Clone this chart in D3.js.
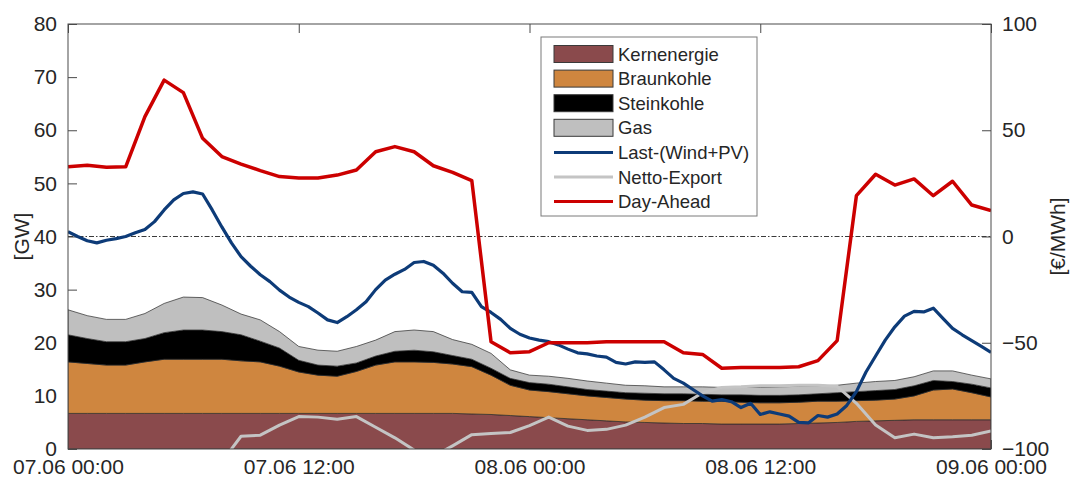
<!DOCTYPE html>
<html>
<head>
<meta charset="utf-8">
<script src="https://cdn.jsdelivr.net/npm/d3@7"></script>
<style>
  html, body { margin: 0; padding: 0; background: #fff; }
  svg { display: block; font-family: "Liberation Sans", Arial, Helvetica, sans-serif; }
</style>
</head>
<body>
<svg id="chart" width="1071" height="479"></svg>
<script>
// Time axis: hours since 07.06 00:00
const xTickHours = [0, 12, 24, 36, 48];
const xTickLabels = ["07.06 00:00", "07.06 12:00", "08.06 00:00", "08.06 12:00", "09.06 00:00"];
const gwTicks = [0, 10, 20, 30, 40, 50, 60, 70, 80];
const priceTicks = [-100, -50, 0, 50, 100];

// Hourly generation by source [GW], h0 .. h48
const kernenergie = [
  6.7, 6.7, 6.7, 6.7, 6.7, 6.7, 6.7, 6.7, 6.7, 6.7, 6.7, 6.7, 6.7,
  6.7, 6.7, 6.7, 6.7, 6.7, 6.7, 6.7, 6.7, 6.6, 6.5, 6.3, 6.1,
  5.9, 5.7, 5.5, 5.3, 5.1, 5.0, 4.9, 4.8, 4.8, 4.7, 4.7, 4.7,
  4.7, 4.8, 4.9, 5.0, 5.2, 5.3, 5.4, 5.5, 5.5, 5.5, 5.5, 5.5
];
const braunkohle = [
  9.7, 9.4, 9.1, 9.1, 9.7, 10.2, 10.2, 10.2, 10.2, 9.9, 9.7, 8.9, 7.8,
  7.2, 7.0, 7.9, 9.1, 9.7, 9.7, 9.6, 9.3, 8.9, 7.4, 5.7, 5.0,
  4.9, 4.7, 4.5, 4.4, 4.3, 4.2, 4.2, 4.3, 4.2, 4.3, 4.1, 4.0,
  4.0, 4.0, 4.1, 4.0, 3.9, 3.9, 4.0, 4.5, 5.6, 5.8, 5.1, 4.3
];
const steinkohle = [
  5.1, 4.7, 4.4, 4.4, 4.4, 5.0, 5.5, 5.5, 5.2, 4.9, 3.9, 3.4, 2.2,
  1.9, 1.9, 1.6, 1.7, 2.0, 2.2, 2.0, 1.6, 1.4, 1.3, 1.3, 1.4,
  1.4, 1.3, 1.2, 1.2, 1.2, 1.3, 1.3, 1.3, 1.3, 1.2, 1.4, 1.4,
  1.4, 1.4, 1.4, 1.6, 1.7, 1.8, 1.8, 1.9, 1.8, 1.4, 1.6, 1.7
];
const gas = [
  4.7, 4.3, 4.2, 4.2, 4.7, 5.5, 6.2, 6.1, 5.0, 3.9, 4.0, 3.1, 2.6,
  2.8, 2.8, 3.1, 3.0, 3.7, 3.8, 3.8, 3.0, 2.8, 2.8, 1.6, 1.4,
  1.5, 1.6, 1.6, 1.5, 1.4, 1.4, 1.3, 1.3, 1.4, 1.4, 1.4, 1.5,
  1.6, 1.6, 1.5, 1.4, 1.6, 1.7, 1.7, 1.7, 1.8, 2.0, 1.7, 1.7
];

// Hourly net export [GW] (below the axis before 07.06 08:00)
const nettoExport = [
  null, null, null, null, null, null, null, null, -2.4, 2.4, 2.6, 4.5, 6.1,
  6.0, 5.6, 6.1, 4.1, 2.1, -0.2, -1.4, 0.6, 2.7, 2.9, 3.1, 4.4,
  6.0, 4.3, 3.5, 3.7, 4.5, 6.0, 7.8, 8.4, 10.6, 11.6, 11.7, 11.9,
  11.9, 12.0, 12.0, 11.8, 8.6, 4.5, 2.1, 2.8, 2.1, 2.3, 2.6, 3.4
];

// Hourly day-ahead price [€/MWh]
const dayAhead = [
  32.8, 33.5, 32.6, 32.8, 56.4, 73.6, 67.7, 46.2, 37.6, 34.1, 31.0, 28.2, 27.5,
  27.5, 28.9, 31.3, 39.9, 42.3, 39.9, 33.3, 30.2, 26.3, -49.5, -54.7, -54.2,
  -50.0, -50.0, -50.0, -49.5, -49.5, -49.5, -49.5, -54.7, -55.5, -62.0, -61.7, -61.6,
  -61.6, -61.3, -58.4, -49.0, 19.2, 29.3, 24.2, 27.1, 19.2, 26.0, 14.8, 12.2
];

// Residual load Last-(Wind+PV) [GW], half-hourly h0 .. h48
const residualLoad = [
  40.9, 40.0, 39.2, 38.8, 39.3, 39.6, 40.0, 40.7, 41.3, 42.8, 45.0, 46.9,
  48.1, 48.4, 48.0, 45.0, 41.8, 38.8, 36.2, 34.4, 32.8, 31.5, 29.9, 28.6,
  27.6, 26.8, 25.6, 24.3, 23.8, 24.9, 26.2, 27.7, 30.0, 31.8, 32.9, 33.8,
  35.1, 35.3, 34.6, 33.1, 31.2, 29.6, 29.5, 26.8, 25.7, 24.4, 22.7, 21.6,
  20.9, 20.5, 20.2, 19.6, 18.8, 18.1, 17.9, 17.5, 17.3, 16.3, 16.0, 16.4,
  16.3, 16.4, 14.9, 13.3, 12.4, 11.2, 10.0, 9.0, 9.3, 8.9, 7.8, 8.6,
  6.5, 7.0, 6.6, 6.2, 5.0, 4.9, 6.3, 6.0, 6.6, 8.2, 10.8, 14.5,
  17.5, 20.5, 23.0, 25.0, 25.9, 25.8, 26.5, 24.6, 22.7, 21.5, 20.4, 19.3,
  18.2
];

const sources = ["Kernenergie", "Braunkohle", "Steinkohle", "Gas"];
const sourceColors = ["#8a4a4c", "#cf863f", "#000000", "#bfbfbf"];
const lineNames = ["Last-(Wind+PV)", "Netto-Export", "Day-Ahead"];
const lineColors = ["#0d3b78", "#c4c4c4", "#cc0000"];

const hours = d3.range(0, 49);
const halfHours = d3.range(0, 48.5, 0.5);

const table = hours.map((h, i) => ({
  h,
  Kernenergie: kernenergie[i],
  Braunkohle: braunkohle[i],
  Steinkohle: steinkohle[i],
  Gas: gas[i]
}));

const svg = d3.select("#chart");
const W = 1071, H = 479;
const plot = { left: 68, right: 991, top: 24, bottom: 449 };

const x = d3.scaleLinear().domain([0, 48]).range([plot.left, plot.right]);
const yGW = d3.scaleLinear().domain([0, 80]).range([plot.bottom, plot.top]);
const yPrice = d3.scaleLinear().domain([-100, 100]).range([plot.bottom, plot.top]);

const axisColor = "#4a4a4a";
const textColor = "#262626";
const tickFont = 21;

svg.append("rect").attr("width", W).attr("height", H).attr("fill", "#fff");

svg.append("defs").append("clipPath").attr("id", "plotClip")
  .append("rect")
  .attr("x", plot.left).attr("y", plot.top)
  .attr("width", plot.right - plot.left).attr("height", plot.bottom - plot.top);

// Axes (drawn beneath the data, ticks pointing inward)
function styleAxis(g) {
  g.select(".domain").remove();
  g.selectAll(".tick line").attr("stroke", axisColor).attr("stroke-width", 1);
  g.selectAll(".tick text").attr("fill", textColor).style("font-size", tickFont + "px");
}

svg.append("g")
  .attr("transform", `translate(${plot.left},0)`)
  .call(d3.axisLeft(yGW).tickValues(gwTicks).tickSize(-9).tickPadding(11))
  .call(styleAxis);

svg.append("g")
  .attr("transform", `translate(${plot.right},0)`)
  .call(d3.axisRight(yPrice).tickValues(priceTicks).tickSize(-9).tickPadding(11))
  .call(styleAxis);

svg.append("g")
  .attr("transform", `translate(0,${plot.bottom})`)
  .call(d3.axisBottom(x).tickValues(xTickHours).tickFormat((d, i) => xTickLabels[i]).tickSize(-9).tickPadding(10))
  .call(styleAxis);

svg.append("g")
  .attr("transform", `translate(0,${plot.top})`)
  .call(d3.axisTop(x).tickValues(xTickHours).tickFormat("").tickSize(-9))
  .call(styleAxis);

const data = svg.append("g").attr("clip-path", "url(#plotClip)");

// Stacked generation
const stack = d3.stack().keys(sources);
const series = stack(table);
const area = d3.area()
  .x(d => x(d.data.h))
  .y0(d => yGW(d[0]))
  .y1(d => yGW(d[1]));

data.selectAll("path.layer")
  .data(series)
  .join("path")
  .attr("class", "layer")
  .attr("d", area)
  .attr("fill", (d, i) => sourceColors[i])
  .attr("stroke", "#2a2a2a")
  .attr("stroke-width", 0.7)
  .attr("stroke-linejoin", "round");

// Zero-price reference line (0 €/MWh)
data.append("line")
  .attr("x1", plot.left).attr("x2", plot.right)
  .attr("y1", yPrice(0)).attr("y2", yPrice(0))
  .attr("stroke", "#3a3a3a")
  .attr("stroke-width", 1)
  .attr("stroke-dasharray", "5,2,1.5,2");

// Net export
data.append("path")
  .datum(hours.map((h, i) => ({ h, v: nettoExport[i] })))
  .attr("d", d3.line().defined(d => d.v !== null).x(d => x(d.h)).y(d => yGW(d.v)))
  .attr("fill", "none")
  .attr("stroke", lineColors[1])
  .attr("stroke-width", 3)
  .attr("stroke-linejoin", "round");

// Residual load
data.append("path")
  .datum(halfHours.map((h, i) => ({ h, v: residualLoad[i] })))
  .attr("d", d3.line().x(d => x(d.h)).y(d => yGW(d.v)))
  .attr("fill", "none")
  .attr("stroke", lineColors[0])
  .attr("stroke-width", 3.2)
  .attr("stroke-linejoin", "round");

// Day-ahead price
data.append("path")
  .datum(hours.map((h, i) => ({ h, v: dayAhead[i] })))
  .attr("d", d3.line().x(d => x(d.h)).y(d => yPrice(d.v)))
  .attr("fill", "none")
  .attr("stroke", lineColors[2])
  .attr("stroke-width", 3.5)
  .attr("stroke-linejoin", "round");

// Axes box
svg.append("rect")
  .attr("x", plot.left).attr("y", plot.top)
  .attr("width", plot.right - plot.left).attr("height", plot.bottom - plot.top)
  .attr("fill", "none")
  .attr("stroke", axisColor)
  .attr("stroke-width", 1);

// Axis titles
svg.append("text")
  .attr("transform", `translate(21,${(plot.top + plot.bottom) / 2}) rotate(-90)`)
  .attr("text-anchor", "middle")
  .attr("dominant-baseline", "central")
  .attr("fill", textColor)
  .style("font-size", tickFont + "px")
  .text("[GW]");

svg.append("text")
  .attr("transform", `translate(1057,${(plot.top + plot.bottom) / 2}) rotate(-90)`)
  .attr("text-anchor", "middle")
  .attr("dominant-baseline", "central")
  .attr("fill", textColor)
  .style("font-size", tickFont + "px")
  .text("[€/MWh]");

// Legend
const legend = svg.append("g").attr("transform", "translate(541,37)");
legend.append("rect")
  .attr("width", 216).attr("height", 179)
  .attr("fill", "#fff")
  .attr("stroke", "#7a7a7a")
  .attr("stroke-width", 1);

const legendItems = sources.map((s, i) => ({ name: s, color: sourceColors[i], kind: "patch" }))
  .concat(lineNames.map((s, i) => ({ name: s, color: lineColors[i], kind: "line" })));

const rowY = i => 17 + i * 24.6;
legendItems.forEach((it, i) => {
  const g = legend.append("g").attr("transform", `translate(0,${rowY(i)})`);
  if (it.kind === "patch") {
    g.append("rect")
      .attr("x", 13).attr("y", -8.5)
      .attr("width", 59).attr("height", 17)
      .attr("fill", it.color)
      .attr("stroke", "#3a3a3a")
      .attr("stroke-width", 1);
  } else {
    g.append("line")
      .attr("x1", 13).attr("x2", 72)
      .attr("y1", 0).attr("y2", 0)
      .attr("stroke", it.color)
      .attr("stroke-width", 3);
  }
  g.append("text")
    .attr("x", 77).attr("y", 0)
    .attr("dominant-baseline", "central")
    .attr("fill", textColor)
    .style("font-size", "18.5px")
    .text(it.name);
});
</script>
</body>
</html>
